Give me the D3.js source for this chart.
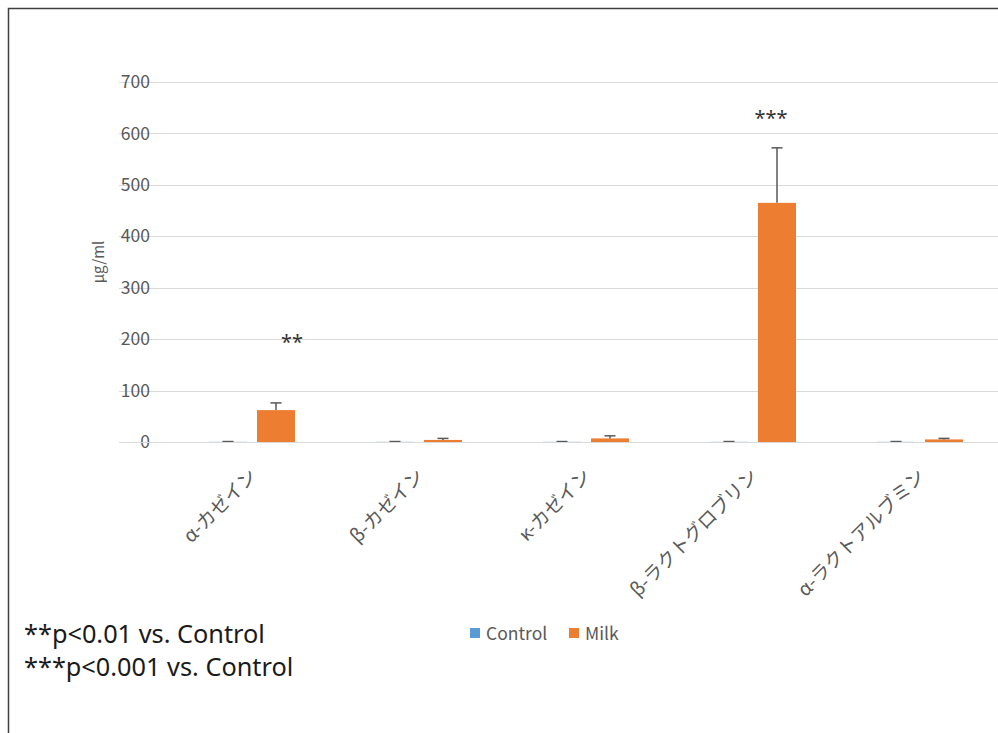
<!DOCTYPE html>
<html>
<head>
<meta charset="utf-8">
<script src="https://cdn.jsdelivr.net/npm/d3@7"></script>
<style>
  body { margin: 0; background: #fff; }
  svg { display: block; }
</style>
</head>
<body>
<svg id="chart" width="998" height="733"></svg>
<script>
// values
const categories = ['α-カゼイン', 'β-カゼイン', 'κ-カゼイン', 'β-ラクトグロブリン', 'α-ラクトアルブミン'];
const seriesNames = ['Control', 'Milk'];
const controlValues = [0.3, 0.3, 0.3, 0.3, 0.3];
const controlErrors = [0.6, 0.6, 0.6, 0.6, 0.6];
const milkValues = [62, 4, 7, 465, 5];
const milkErrors = [14, 3, 5, 107, 2];
const yTicks = [0, 100, 200, 300, 400, 500, 600, 700];
// significance marks: category, text, height (in µg/ml) where the text sits
const sigMarks = [
  { cat: 'α-カゼイン', text: '**', at: 196 },
  { cat: 'β-ラクトグロブリン', text: '***', at: 632 }
];
const footnotes = ['**p<0.01 vs. Control', '***p<0.001 vs. Control'];

const colors = { Control: '#5B9BD5', Milk: '#ED7D31' };
const textColor = '#595959';
const font = '"Noto Sans CJK JP", "Noto Sans", sans-serif';

const svg = d3.select('#chart');

// outer frame (cut off at right and bottom in the original)
svg.append('path')
  .attr('d', 'M8.5,740 V8.5 H1010')
  .attr('fill', 'none')
  .attr('stroke', '#404040')
  .attr('stroke-width', 1.5);

const plotLeft = 119;
const plotRight = 998;

const x0 = d3.scaleBand()
  .domain(categories)
  .range([168.5, 1003.5]);

const x1 = d3.scaleBand()
  .domain(seriesNames)
  .range([0, 86])
  .paddingInner(0.2083);

const y = d3.scaleLinear()
  .domain([0, 700])
  .range([442, 82]);

// gridlines
svg.append('g')
  .selectAll('line')
  .data(yTicks)
  .enter().append('line')
  .attr('x1', plotLeft)
  .attr('x2', plotRight)
  .attr('y1', d => Math.round(y(d)) + 0.5)
  .attr('y2', d => Math.round(y(d)) + 0.5)
  .attr('stroke', '#D9D9D9')
  .attr('stroke-width', 1);

// y axis labels
const yAxis = d3.axisLeft(y).tickValues(yTicks).tickSize(0).tickPadding(0);
const gy = svg.append('g')
  .attr('transform', 'translate(150,0)')
  .call(yAxis);
gy.select('.domain').remove();
gy.selectAll('text')
  .attr('fill', textColor)
  .attr('font-family', font)
  .attr('font-size', 17.5);

svg.append('text')
  .attr('transform', `translate(104,${y(350)}) rotate(-90)`)
  .attr('text-anchor', 'middle')
  .attr('fill', textColor)
  .attr('font-family', font)
  .attr('font-size', 15)
  .text('μg/ml');

const groupOffset = (x0.bandwidth() - 86) / 2;

const rows = [];
categories.forEach((c, i) => {
  rows.push({ cat: c, s: 'Control', v: controlValues[i], e: controlErrors[i] });
  rows.push({ cat: c, s: 'Milk', v: milkValues[i], e: milkErrors[i] });
});
const barX = d => x0(d.cat) + groupOffset + x1(d.s);

// bars
svg.append('g')
  .selectAll('rect')
  .data(rows)
  .enter().append('rect')
  .attr('x', barX)
  .attr('width', x1.bandwidth())
  .attr('y', d => y(d.v))
  .attr('height', d => y(0) - y(d.v))
  .attr('fill', d => colors[d.s]);

// error bars
const eb = svg.append('g')
  .attr('stroke', '#595959')
  .attr('stroke-width', 1.5)
  .selectAll('g')
  .data(rows)
  .enter().append('g');
eb.append('line')
  .attr('x1', d => barX(d) + x1.bandwidth() / 2)
  .attr('x2', d => barX(d) + x1.bandwidth() / 2)
  .attr('y1', d => y(d.v))
  .attr('y2', d => y(d.v + d.e));
eb.append('line')
  .attr('x1', d => barX(d) + x1.bandwidth() / 2 - 5.5)
  .attr('x2', d => barX(d) + x1.bandwidth() / 2 + 5.5)
  .attr('y1', d => y(d.v + d.e))
  .attr('y2', d => y(d.v + d.e));

// category axis line
svg.append('line')
  .attr('x1', plotLeft)
  .attr('x2', plotRight)
  .attr('y1', y(0) + 0.5)
  .attr('y2', y(0) + 0.5)
  .attr('stroke', '#D9D9D9');

// category labels
svg.append('g')
  .selectAll('text')
  .data(categories)
  .enter().append('text')
  .attr('transform', d => `translate(${x0(d) + x0.bandwidth() / 2 + 6},${477}) rotate(-45)`)
  .attr('text-anchor', 'end')
  .attr('fill', textColor)
  .attr('font-family', font)
  .attr('font-size', 19)
  .text(d => d);

// significance marks (text boxes sit a little right of the bar centre)
svg.append('g')
  .selectAll('text')
  .data(sigMarks)
  .enter().append('text')
  .attr('x', (d, i) => x0(d.cat) + groupOffset + x1('Milk') + x1.bandwidth() / 2 + (i === 0 ? 16 : -6))
  .attr('y', d => y(d.at) + 8)
  .attr('text-anchor', 'middle')
  .attr('fill', '#333')
  .attr('font-family', '"Noto Sans", sans-serif')
  .attr('font-size', 20)
  .text(d => d.text);

// legend
const legend = svg.append('g')
  .selectAll('g')
  .data(seriesNames)
  .enter().append('g')
  .attr('transform', (d, i) => `translate(${470 + i * 99},628)`);
legend.append('rect')
  .attr('width', 10)
  .attr('height', 10)
  .attr('fill', d => colors[d]);
legend.append('text')
  .attr('x', 16)
  .attr('y', 11.5)
  .attr('fill', textColor)
  .attr('font-family', font)
  .attr('font-size', 17.5)
  .text(d => d);

// footnotes
svg.append('g')
  .selectAll('text')
  .data(footnotes)
  .enter().append('text')
  .attr('x', 24)
  .attr('y', (d, i) => 643 + i * 33)
  .attr('fill', '#1a1a1a')
  .attr('font-family', '"Noto Sans", sans-serif')
  .attr('font-size', 25.3)
  .text(d => d);
</script>
</body>
</html>
